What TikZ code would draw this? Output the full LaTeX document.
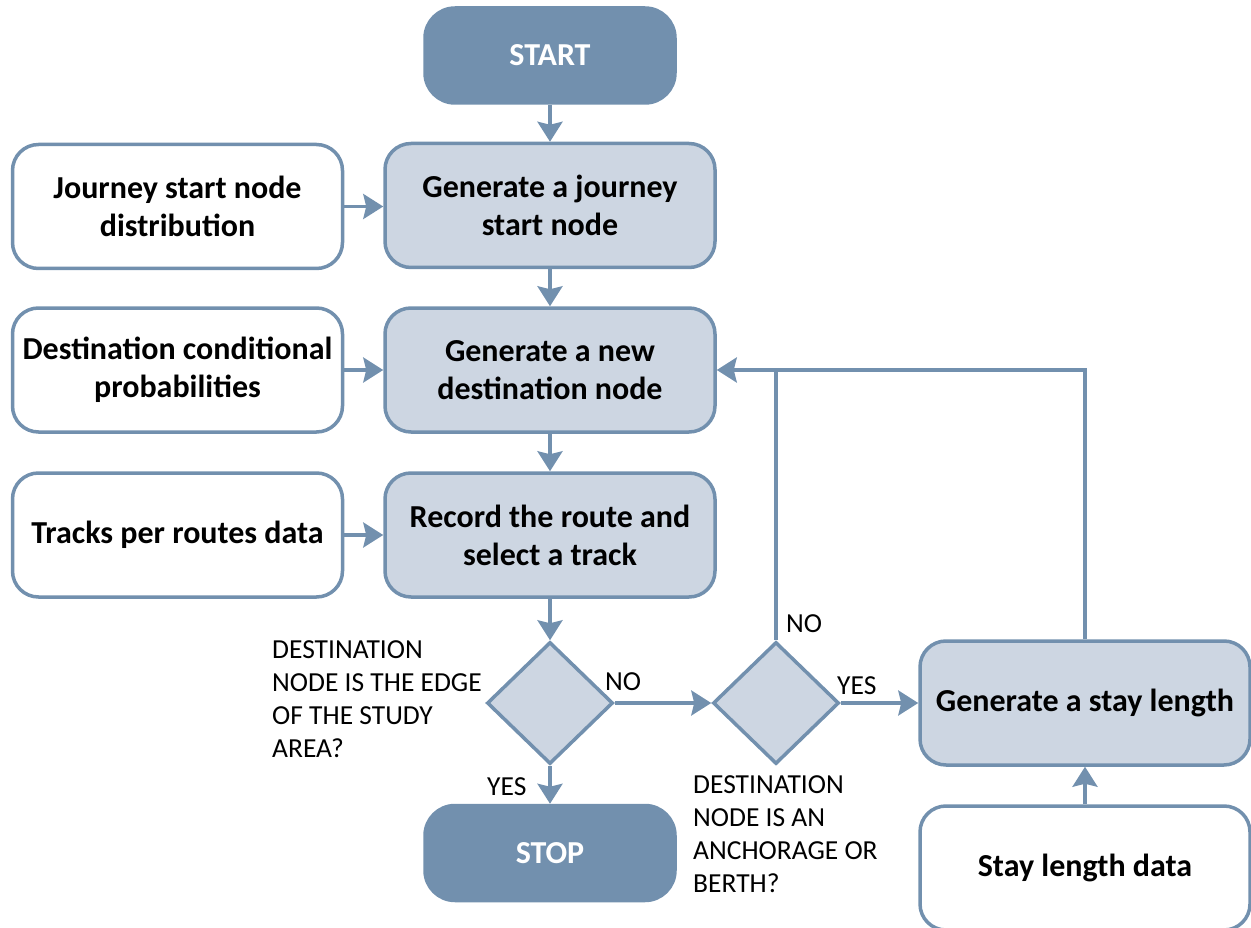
\documentclass[tikz,border=0pt]{standalone}
\usepackage{fontspec}
\setmainfont{Carlito}
\usetikzlibrary{shapes.geometric,arrows.meta}
\definecolor{dk}{HTML}{7290AE}
\definecolor{lt}{HTML}{CDD6E2}
\tikzset{
  base/.style={draw=dk, line width=3.5pt, rounded corners=26pt, align=center,
    font=\fontsize{32}{38}\selectfont\bfseries, minimum width=330pt, minimum height=124pt},
  term/.style={base, fill=dk, text=white, minimum width=250pt, minimum height=95pt, rounded corners=30pt},
  proc/.style={base, fill=lt},
  data/.style={base, fill=white},
  dec/.style={diamond, draw=dk, fill=lt, line width=3.5pt, minimum width=126pt, minimum height=122pt, inner sep=0pt},
  lab/.style={font=\fontsize{27.5}{33}\selectfont, align=left, inner sep=0pt},
  arr/.style={draw=dk, line width=3.5pt, -{Stealth[length=20pt,width=25pt,inset=3pt]}},
  ln/.style={draw=dk, line width=3.5pt}
}
\begin{document}
\begin{tikzpicture}[x=1pt,y=-1pt]
\useasboundingbox (0,0) rectangle (1251,928);
\node[term] (start) at (550,55.5) {START};
\node[proc] (g1) at (550,205.5) {Generate a journey\\start node};
\node[data] (d1) at (177.5,206.5) {Journey start node\\distribution};
\node[proc] (g2) at (550,370) {Generate a new\\destination node};
\node[data] (d2) at (177.5,370) {Destination conditional\\probabilities};
\node[proc] (g3) at (550,535) {Record the route and\\select a track};
\node[data] (d3) at (177.5,535) {Tracks per routes data};
\node[dec] (q1) at (550,703) {};
\node[term] (stop) at (550,853) {STOP};
\node[dec] (q2) at (776,703) {};
\node[proc] (stay) at (1085,703) {Generate a stay length};
\node[data] (sd) at (1085,868) {Stay length data};

\draw[arr] (start) -- (g1);
\draw[arr] (d1) -- (g1.west |- d1);
\draw[arr] (g1) -- (g2);
\draw[arr] (d2) -- (g2);
\draw[arr] (g2) -- (g3);
\draw[arr] (d3) -- (g3);
\draw[arr] (g3) -- (q1.north);
\draw[arr] (q1.south) -- (stop);
\draw[arr] (q1.east) -- (q2.west);
\draw[arr] (q2.east) -- (stay.west |- q2.east);
\draw[arr] (sd) -- (stay);
\coordinate (c1) at (1085,370);
\draw[arr] (stay.north) -- (c1) -- (g2.east);
\draw[ln] (q2.north) -- (q2.north |- c1);

\node[lab, anchor=north west] (t1) at (272,640) {DESTINATION\\NODE IS THE EDGE\\OF THE STUDY\\AREA?};
\node[lab, anchor=north west] (t2) at (693,775) {DESTINATION\\NODE IS AN\\ANCHORAGE OR\\BERTH?};
\node[lab, anchor=base west] (n1) at (605,690) {NO};
\node[lab, anchor=base west] (y1) at (837,694) {YES};
\node[lab, anchor=base west] (n2) at (786,632) {NO};
\node[lab, anchor=base west] (y2) at (487,795) {YES};
\end{tikzpicture}
\end{document}
